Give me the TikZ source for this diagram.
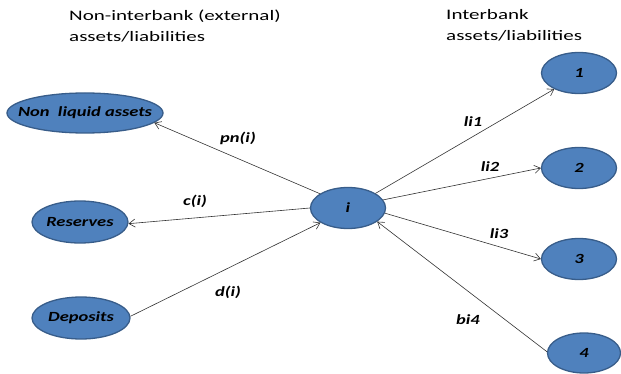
\documentclass[tikz,border=0pt]{standalone}
\usepackage{fontspec}
\setmainfont{Carlito}
\newfontfamily\headfont{Carlito}[FakeStretch=1.45]
\newfontfamily\labfont{Carlito}[FakeStretch=1.32]
\usetikzlibrary{arrows.meta,shapes.geometric}
\definecolor{ellfill}{RGB}{79,129,189}
\definecolor{elldraw}{RGB}{56,93,138}
\definecolor{linecol}{RGB}{50,50,50}
\begin{document}
\begin{tikzpicture}[x=1pt,y=-1pt,
  bank/.style={ellipse,draw=elldraw,fill=ellfill,line width=1.3pt,inner sep=0pt,
    font=\labfont\fontsize{14}{16}\selectfont\bfseries\itshape},
  conn/.style={draw=linecol,line width=0.6pt,-{Straight Barb[length=6pt,width=8pt,line width=0.6pt]}},
  lab/.style={font=\labfont\fontsize{14}{16}\selectfont\bfseries\itshape,inner sep=0pt},
  head/.style={font=\headfont\fontsize{14.5}{21}\selectfont,align=left,inner sep=0pt,anchor=north west}]
\useasboundingbox (0,0) rectangle (621,374);
\node[head] (h1) at (69,10) {Non-interbank (external)\\assets/liabilities};
\node[head] (h2) at (446,9) {Interbank\\assets/liabilities};
\node[bank,minimum width=156pt,minimum height=40pt,inner xsep=-20pt] (nla) at (85,113) {Non\ \ liquid assets};
\node[bank,minimum width=96pt,minimum height=42pt] (res) at (80,222) {Reserves};
\node[bank,minimum width=98pt,minimum height=42pt] (dep) at (81,318) {Deposits};
\node[bank,minimum width=75pt,minimum height=41pt] (i) at (348,208) {i};
\node[bank,minimum width=75pt,minimum height=41pt] (b1) at (579,73) {1};
\node[bank,minimum width=75pt,minimum height=41pt] (b2) at (579,168) {2};
\node[bank,minimum width=75pt,minimum height=41pt] (b3) at (579,259) {3};
\node[bank,minimum width=73pt,minimum height=40pt] (b4) at (584,353) {4};
\draw[conn] (i.153) -- (nla.352);
\draw[conn] (i.180) -- (res.358);
\draw[conn] (dep.2) -- (i.208);
\draw[conn] (i.28) -- (b1.213);
\draw[conn] (i.13) -- (b2.180);
\draw[conn] (i.352) -- (b3.180);
\draw[conn] (b4.178) -- (i.335);
\node[lab] (lpn) at (238,138) {pn(i)};
\node[lab] (lc) at (195,201) {c(i)};
\node[lab] (ld) at (228,292) {d(i)};
\node[lab] (l1) at (473,122) {li1};
\node[lab] (l2) at (490,167) {li2};
\node[lab] (l3) at (499,234) {li3};
\node[lab] (l4) at (468,320) {bi4};
\end{tikzpicture}
\end{document}
